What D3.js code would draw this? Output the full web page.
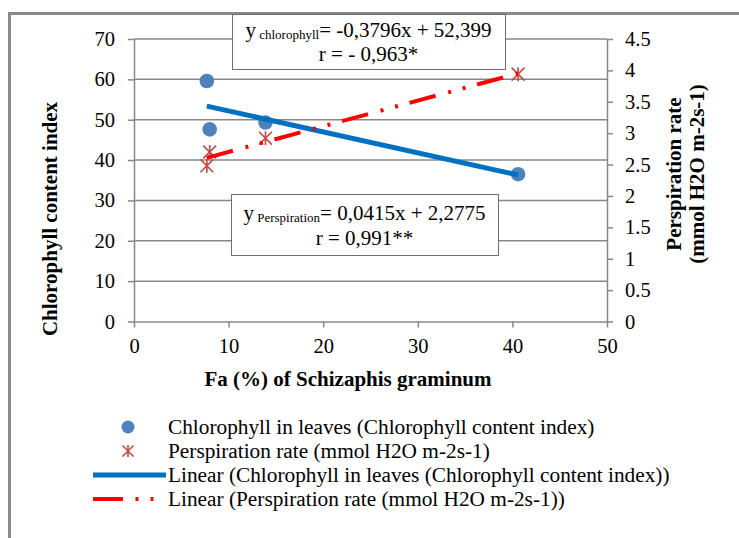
<!DOCTYPE html>
<html>
<head>
<meta charset="utf-8">
<script src="https://cdn.jsdelivr.net/npm/d3@7.9.0/dist/d3.min.js"></script>
<style>
  html, body { margin: 0; padding: 0; background: #fff; }
  svg { display: block; font-family: "Liberation Serif", "Times New Roman", serif; }
</style>
</head>
<body>
<svg id="chart" width="739" height="538"></svg>
<script>
// data
const faValues = [7.7, 8.0, 13.9, 40.6];
const chlorophyll = [59.6, 47.6, 49.3, 36.5];
const perspiration = [2.48, 2.70, 2.92, 3.94];
const xTicks = [0, 10, 20, 30, 40, 50];
const leftTicks = [0, 10, 20, 30, 40, 50, 60, 70];
const rightTicks = [0, 0.5, 1, 1.5, 2, 2.5, 3, 3.5, 4, 4.5];
const legendLabels = [
  'Chlorophyll in leaves (Chlorophyll content index)',
  'Perspiration rate (mmol H2O m-2s-1)',
  'Linear (Chlorophyll in leaves (Chlorophyll content index))',
  'Linear (Perspiration rate (mmol H2O m-2s-1))',
];

const gray = '#878787';
const blueDot = '#4F81BD';
const starRed = '#C0504D';
const trendBlue = '#0070C0';
const trendRed = '#FF0000';

const svg = d3.select('#chart');

const x = d3.scaleLinear().domain([0, 50]).range([134, 607]);
const yL = d3.scaleLinear().domain([0, 70]).range([321.5, 39]);
const yR = d3.scaleLinear().domain([0, 4.5]).range([321.5, 39]);

// outer frame (only the left and top edges show)
svg.append('path')
  .attr('d', 'M9.5,538 V13.5 H739')
  .attr('fill', 'none')
  .attr('stroke', '#8a8a8a')
  .attr('stroke-width', 3);

// gridlines
svg.append('g')
  .selectAll('line')
  .data(leftTicks.filter((d) => d > 0))
  .join('line')
  .attr('x1', x(0))
  .attr('x2', x(50))
  .attr('y1', (d) => yL(d))
  .attr('y2', (d) => yL(d))
  .attr('stroke', gray)
  .attr('stroke-width', 1.5);

function styleAxis(g) {
  g.selectAll('path, line').attr('stroke', gray).attr('stroke-width', 1.5);
  g.selectAll('text')
    .attr('fill', '#000')
    .style('font-size', '20.5px')
    .style('font-family', '"Liberation Serif", "Times New Roman", serif');
}

svg.append('g')
  .attr('transform', `translate(${x(0)},0)`)
  .call(d3.axisLeft(yL).tickValues(leftTicks).tickSize(6).tickSizeOuter(0).tickPadding(13))
  .call(styleAxis);

svg.append('g')
  .attr('transform', `translate(${x(50)},0)`)
  .call(d3.axisRight(yR).tickValues(rightTicks).tickFormat((d) => String(d))
    .tickSize(6).tickSizeOuter(0).tickPadding(12))
  .call(styleAxis);

svg.append('g')
  .attr('transform', `translate(0,${yL(0)})`)
  .call(d3.axisBottom(x).tickValues(xTicks).tickSize(6).tickSizeOuter(0).tickPadding(11))
  .call(styleAxis);

// axis titles
svg.append('text')
  .attr('transform', 'translate(57,219) rotate(-90)')
  .attr('text-anchor', 'middle')
  .style('font-size', '21px')
  .style('font-weight', 'bold')
  .text('Chlorophyll content index');

svg.append('text')
  .attr('x', 348)
  .attr('y', 386)
  .attr('text-anchor', 'middle')
  .style('font-size', '21px')
  .style('font-weight', 'bold')
  .text('Fa (%) of Schizaphis graminum');

const rightTitle = svg.append('text')
  .attr('transform', 'translate(681,174) rotate(-90)')
  .attr('text-anchor', 'middle')
  .style('font-size', '21px')
  .style('font-weight', 'bold');
rightTitle.append('tspan').attr('x', 0).attr('y', 0).text('Perspiration rate');
rightTitle.append('tspan').attr('x', 0).attr('y', 23).text('(mmol H2O m-2s-1)');

// least-squares trend lines over the data range
function linearFit(xs, ys) {
  const mx = d3.mean(xs);
  const my = d3.mean(ys);
  const sxy = d3.sum(xs, (v, i) => (v - mx) * (ys[i] - my));
  const sxx = d3.sum(xs, (v) => (v - mx) * (v - mx));
  const slope = sxy / sxx;
  return (v) => my + slope * (v - mx);
}
const xExtent = d3.extent(faValues);
const fitChl = linearFit(faValues, chlorophyll);
const fitPer = linearFit(faValues, perspiration);

function starPath(cx, cy, r) {
  const d = r * 0.92;
  return `M${cx - d},${cy - d}L${cx + d},${cy + d}M${cx - d},${cy + d}L${cx + d},${cy - d}` +
    `M${cx},${cy - r}L${cx},${cy + r}`;
}

// markers
svg.append('g')
  .selectAll('circle')
  .data(faValues)
  .join('circle')
  .attr('cx', (d) => x(d))
  .attr('cy', (d, i) => yL(chlorophyll[i]))
  .attr('r', 7.3)
  .attr('fill', blueDot);

svg.append('g')
  .selectAll('path')
  .data(faValues)
  .join('path')
  .attr('d', (d, i) => starPath(x(d), yR(perspiration[i]), 7))
  .attr('stroke', starRed)
  .attr('stroke-width', 1.7)
  .attr('fill', 'none');

// trend lines
svg.append('line')
  .attr('x1', x(xExtent[0]))
  .attr('y1', yL(fitChl(xExtent[0])))
  .attr('x2', x(xExtent[1]))
  .attr('y2', yL(fitChl(xExtent[1])))
  .attr('stroke', trendBlue)
  .attr('stroke-width', 5);

svg.append('line')
  .attr('x1', x(xExtent[0]))
  .attr('y1', yR(fitPer(xExtent[0])))
  .attr('x2', x(xExtent[1]))
  .attr('y2', yR(fitPer(xExtent[1])))
  .attr('stroke', trendRed)
  .attr('stroke-width', 4)
  .attr('stroke-dasharray', '27 13 3 12 3 12');

// equation boxes
function eqBox(bx, by, bw, bh, name, eq, r, base1, base2) {
  const g = svg.append('g');
  g.append('rect')
    .attr('x', bx + 0.5).attr('y', by + 0.5)
    .attr('width', bw).attr('height', bh)
    .attr('fill', '#fff')
    .attr('stroke', '#6e6e6e')
    .attr('stroke-width', 1);
  const t = g.append('text')
    .attr('x', bx + bw / 2)
    .attr('y', base1)
    .attr('text-anchor', 'middle')
    .style('font-size', '21px');
  t.append('tspan').text('y');
  t.append('tspan').attr('dy', 2).style('font-size', '13px').text(' ' + name);
  t.append('tspan').attr('dy', -2).text(eq);
  g.append('text')
    .attr('x', bx + bw / 2)
    .attr('y', base2)
    .attr('text-anchor', 'middle')
    .style('font-size', '21px')
    .text(r);
}
eqBox(232, 14, 273, 55, 'chlorophyll', '= -0,3796x + 52,399', 'r = - 0,963*', 37, 61);
eqBox(231, 194, 267, 61, 'Perspiration', '= 0,0415x + 2,2775', 'r = 0,991**', 220, 245);

// legend
const legendY = [427, 451, 475, 499];
const legend = svg.append('g');
legend.append('circle').attr('cx', 128).attr('cy', legendY[0]).attr('r', 6.5).attr('fill', blueDot);
legend.append('path')
  .attr('d', starPath(128, legendY[1], 6))
  .attr('stroke', starRed).attr('stroke-width', 1.7).attr('fill', 'none');
legend.append('line')
  .attr('x1', 93).attr('x2', 166).attr('y1', legendY[2]).attr('y2', legendY[2])
  .attr('stroke', trendBlue).attr('stroke-width', 5);
legend.append('line')
  .attr('x1', 93).attr('x2', 156).attr('y1', legendY[3]).attr('y2', legendY[3])
  .attr('stroke', trendRed).attr('stroke-width', 4)
  .attr('stroke-dasharray', '30 12.5 3 12 3 100');
legend.selectAll('text')
  .data(legendLabels)
  .join('text')
  .attr('x', 168)
  .attr('y', (d, i) => legendY[i] + 7)
  .style('font-size', '21.3px')
  .text((d) => d);
</script>
</body>
</html>
